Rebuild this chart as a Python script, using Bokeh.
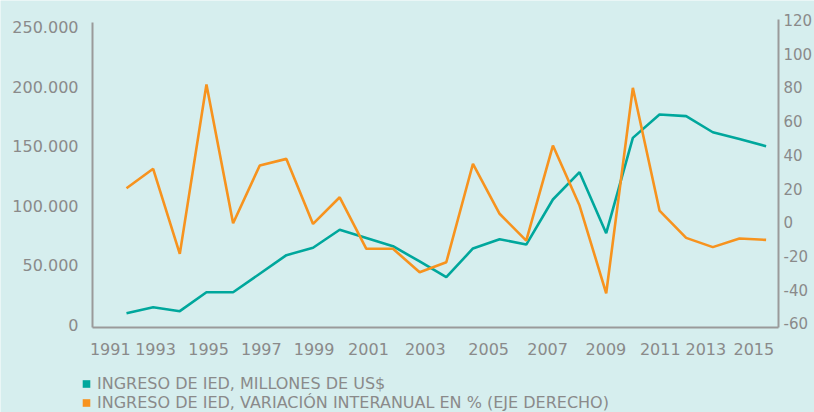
from bokeh.plotting import figure
from bokeh.models import Range1d, LinearAxis, FixedTicker, Legend, LegendItem
from bokeh.embed import file_html
from bokeh.resources import INLINE

# ---------------- data ----------------
years = list(range(1991, 2016))
ied_musd = [9900, 14900, 11600, 27500, 27500, 43000, 58600, 64800, 79900, 73000,
            66100, 53300, 40100, 64200, 72000, 67500, 105300, 128200, 77000, 157000,
            176600, 175200, 161700, 156000, 150000]
ied_var_pct = [20.2, 31.7, -18.8, 81.8, -0.6, 33.7, 37.6, -1.0, 14.8, -15.8,
               -15.8, -29.7, -23.8, 34.7, 5.0, -10.9, 45.5, 9.9, -42.2, 79.8,
               6.9, -9.3, -14.8, -9.7, -10.5]

left_ticks = [0, 50000, 100000, 150000, 200000, 250000]
left_labels = ["0", "50.000", "100.000", "150.000", "200.000", "250.000"]
right_ticks = [-60, -40, -20, 0, 20, 40, 60, 80, 100, 120]
right_labels = ["-60", "-40", "-20", "0", "20", "40", "60", "80", "100", "120"]
x_labels = ["1991", "1993", "1995", "1997", "1999", "2001", "2003",
            "2005", "2007", "2009", "2011", "2013", "2015"]
# where the source prints each year label along the axis
x_label_pos = [1990.39, 1992.09, 1994.08, 1996.06, 1998.04, 2000.08, 2002.21,
               2004.59, 2006.80, 2008.99, 2011.03, 2012.74, 2014.54]

series_names = ["INGRESO DE IED, MILLONES DE US$",
                "INGRESO DE IED, VARIACIÓN INTERANUAL EN % (EJE DERECHO)"]

# ---------------- layout constants (axis extents in data units) ----------------
X_LO, X_HI = 1989.724, 2015.465          # plot box left / right
L_LO, L_HI = -2097, 253775                # left axis extent
R_LO, R_HI = -62.53, 120.5                # right axis extent

# ---------------- style ----------------
BG = "#d6eeee"
TEAL = "#00a79c"
ORANGE = "#f7931e"
AXIS = "#9a9a9a"
TXT = "#8a8a8a"
FONT = "DejaVu Sans"

p = figure(width=814, height=412, output_backend="svg", toolbar_location=None,
           x_range=Range1d(1986.272, 2016.816), y_range=Range1d(-73406, 272232),
           min_border=0, min_border_left=0, min_border_right=0,
           min_border_top=0, min_border_bottom=0,
           background_fill_color=BG, border_fill_color=BG, outline_line_color=None)
p.extra_y_ranges = {"pct": Range1d(-113.0, 131.65)}
p.grid.visible = False

p.line(years, ied_musd, line_color=TEAL, line_width=2.6)
p.line(years, ied_var_pct, y_range_name="pct", line_color=ORANGE, line_width=2.6)

# square swatches for the legend (not drawn in the plot)
sq1 = p.scatter(years[:1], ied_musd[:1], marker="square", fill_color=TEAL,
                line_color=None, visible=False)
sq2 = p.scatter(years[:1], ied_var_pct[:1], y_range_name="pct", marker="square",
                fill_color=ORANGE, line_color=None, visible=False)


def style_axis(ax, size="16px", standoff=14):
    ax.axis_line_color = AXIS
    ax.axis_line_width = 2
    ax.major_tick_line_color = None
    ax.minor_tick_line_color = None
    ax.major_tick_out = 0
    ax.major_tick_in = 0
    ax.major_label_text_font = FONT
    ax.major_label_text_font_size = size
    ax.major_label_text_color = TXT
    ax.major_label_standoff = standoff


yl = p.yaxis[0]
yl.ticker = FixedTicker(ticks=left_ticks)
yl.major_label_overrides = dict(zip(left_ticks, left_labels))
yl.fixed_location = X_LO
yl.bounds = (L_LO, L_HI)
style_axis(yl, "16px", 14)

yr = LinearAxis(y_range_name="pct", ticker=FixedTicker(ticks=right_ticks),
                fixed_location=X_HI, bounds=(R_LO, R_HI))
yr.major_label_overrides = dict(zip(right_ticks, right_labels))
style_axis(yr, "15px", 5)
p.add_layout(yr, "right")

xa = p.xaxis[0]
xa.ticker = FixedTicker(ticks=x_label_pos)
xa.major_label_overrides = dict(zip(x_label_pos, x_labels))
xa.fixed_location = L_LO
xa.bounds = (X_LO, X_HI)
style_axis(xa, "16px", 16)

legend = Legend(items=[LegendItem(label=series_names[0], renderers=[sq1]),
                       LegendItem(label=series_names[1], renderers=[sq2])],
                location=(76, 0), orientation="vertical",
                padding=0, margin=0, spacing=0,
                glyph_width=20, glyph_height=19, label_height=19,
                label_standoff=1,
                label_text_font=FONT, label_text_font_size="16px",
                label_text_color=TXT, label_text_baseline="middle",
                border_line_alpha=0, background_fill_alpha=0)
p.add_layout(legend, "center")

open("out.html", "w").write(file_html(p, INLINE))
